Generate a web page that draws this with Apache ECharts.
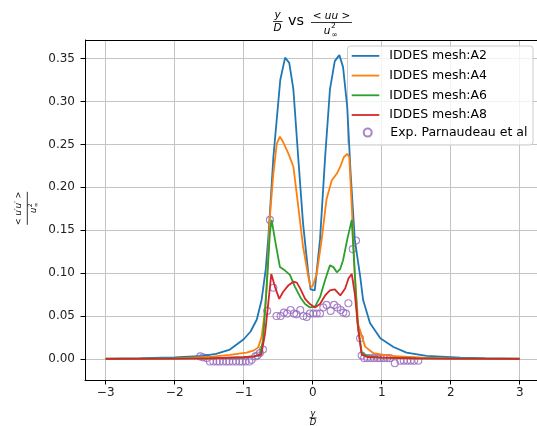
<!DOCTYPE html>
<html><head><meta charset="utf-8">
<script src="https://cdn.jsdelivr.net/npm/echarts@6/dist/echarts.min.js"></script>
<style>html,body{margin:0;padding:0;background:#fff;overflow:hidden}#c{width:537px;height:426px}</style>
</head><body><div id="c"></div>
<script>
const xTicks = [-3, -2, -1, 0, 1, 2, 3];
const yTicks = [0, 0.05, 0.1, 0.15, 0.2, 0.25, 0.3, 0.35];
const seriesNames = ['IDDES mesh:A2', 'IDDES mesh:A4', 'IDDES mesh:A6', 'IDDES mesh:A8', 'Exp. Parnaudeau et al'];

const a2X = [-3, -2.5, -2, -1.6, -1.4, -1.2, -1.0, -0.9, -0.81, -0.74, -0.68, -0.64, -0.57, -0.47, -0.40, -0.34, -0.28, -0.21, -0.14, -0.064, -0.03, 0.03, 0.106, 0.18, 0.25, 0.32, 0.386, 0.44, 0.50, 0.55, 0.61, 0.69, 0.73, 0.83, 0.98, 1.17, 1.36, 1.65, 2.14, 2.5, 3];
const a2Y = [0.0005, 0.001, 0.0018, 0.0035, 0.006, 0.011, 0.023, 0.032, 0.046, 0.069, 0.105, 0.145, 0.235, 0.325, 0.351, 0.345, 0.314, 0.235, 0.158, 0.10, 0.081, 0.080, 0.139, 0.235, 0.314, 0.347, 0.354, 0.340, 0.294, 0.216, 0.139, 0.095, 0.069, 0.042, 0.024, 0.014, 0.0074, 0.0035, 0.0016, 0.001, 0.0005];

const a4X = [-3, -2, -1.6, -1.45, -1.2, -0.96, -0.85, -0.79, -0.74, -0.69, -0.66, -0.62, -0.57, -0.52, -0.475, -0.43, -0.35, -0.28, -0.21, -0.14, -0.064, -0.03, 0.0, 0.058, 0.13, 0.2, 0.276, 0.35, 0.40, 0.45, 0.50, 0.53, 0.566, 0.61, 0.66, 0.76, 0.88, 1.12, 1.6, 2, 3];
const a4Y = [0.0003, 0.0008, 0.002, 0.0027, 0.0047, 0.0074, 0.010, 0.0135, 0.026, 0.057, 0.096, 0.166, 0.216, 0.251, 0.259, 0.253, 0.239, 0.224, 0.178, 0.131, 0.096, 0.084, 0.085, 0.099, 0.139, 0.186, 0.208, 0.216, 0.224, 0.235, 0.239, 0.235, 0.178, 0.099, 0.04, 0.0144, 0.0067, 0.0035, 0.0015, 0.0008, 0.0003];

const a6X = [-3, -2, -1.5, -1.0, -0.85, -0.765, -0.72, -0.67, -0.62, -0.595, -0.547, -0.475, -0.40, -0.33, -0.257, -0.18, -0.11, -0.04, 0.033, 0.106, 0.18, 0.25, 0.30, 0.35, 0.40, 0.44, 0.50, 0.566, 0.61, 0.65, 0.71, 0.8, 1.0, 1.5, 2, 3];
const a6Y = [0.0002, 0.0004, 0.0008, 0.002, 0.003, 0.005, 0.022, 0.08, 0.147, 0.162, 0.139, 0.107, 0.103, 0.098, 0.084, 0.072, 0.064, 0.060, 0.061, 0.072, 0.092, 0.109, 0.107, 0.101, 0.105, 0.115, 0.139, 0.162, 0.099, 0.042, 0.0075, 0.003, 0.0015, 0.0008, 0.0004, 0.0002];

const a8X = [-3, -2, -1.5, -1.0, -0.85, -0.745, -0.69, -0.64, -0.6, -0.547, -0.485, -0.43, -0.35, -0.28, -0.23, -0.18, -0.11, -0.04, 0.033, 0.106, 0.18, 0.25, 0.32, 0.40, 0.47, 0.52, 0.566, 0.61, 0.66, 0.71, 0.8, 1.0, 1.5, 2, 3];
const a8Y = [0.0002, 0.0004, 0.0008, 0.002, 0.003, 0.005, 0.03, 0.068, 0.099, 0.084, 0.070, 0.078, 0.086, 0.090, 0.089, 0.082, 0.070, 0.064, 0.060, 0.064, 0.074, 0.080, 0.081, 0.074, 0.082, 0.094, 0.099, 0.076, 0.034, 0.005, 0.002, 0.0015, 0.0008, 0.0004, 0.0002];

const expX = [-1.63, -1.59, -1.54, -1.49, -1.44, -1.39, -1.35, -1.30, -1.25, -1.21, -1.16, -1.11, -1.06, -1.02, -0.97, -0.92, -0.885, -0.83, -0.80, -0.765, -0.72, -0.66, -0.62, -0.57, -0.525, -0.465, -0.417, -0.37, -0.32, -0.27, -0.236, -0.18, -0.136, -0.087, -0.04, 0.01, 0.058, 0.106, 0.154, 0.2, 0.26, 0.31, 0.357, 0.406, 0.444, 0.483, 0.517, 0.58, 0.628, 0.686, 0.71, 0.745, 0.79, 0.84, 0.89, 0.94, 0.98, 1.03, 1.08, 1.12, 1.19, 1.27, 1.32, 1.37, 1.42, 1.47, 1.53];
const expY = [0.003, 0.002, 0.001, -0.003, -0.003, -0.003, -0.003, -0.003, -0.003, -0.003, -0.003, -0.003, -0.003, -0.003, -0.003, -0.003, -0.001, 0.003, 0.004, 0.007, 0.011, 0.056, 0.162, 0.083, 0.050, 0.050, 0.054, 0.053, 0.057, 0.053, 0.052, 0.057, 0.050, 0.049, 0.053, 0.053, 0.053, 0.053, 0.060, 0.063, 0.056, 0.063, 0.060, 0.057, 0.054, 0.053, 0.065, 0.128, 0.138, 0.024, 0.004, 0.001, 0.001, 0.001, 0.001, 0.001, 0.001, 0.001, 0.001, 0.001, -0.005, -0.002, -0.002, -0.002, -0.002, -0.002, -0.002];

const colors = ['#1f77b4', '#ff7f0e', '#2ca02c', '#d62728', '#9467bd'];
const FONT = 'DejaVu Sans';

function pairs(xs, ys) { return xs.map((x, i) => [x, ys[i]]); }
function lineSeries(name, xs, ys, color) {
  return {
    name: name, type: 'line', data: pairs(xs, ys), symbol: 'none', showSymbol: false,
    color: color, lineStyle: { width: 1.8, color: color }, animation: false
  };
}

const chart = echarts.init(document.getElementById('c'), null, { renderer: 'canvas' });
const txt = (t, x, y, size, italic, extra) => Object.assign({
  type: 'text', x: x, y: y,
  style: { text: t, font: (italic ? 'italic ' : '') + size + 'px "' + FONT + '"', fill: '#000', align: 'center', verticalAlign: 'middle' }
}, extra || {});
const hline = (x1, x2, y, w) => ({ type: 'line', shape: { x1: x1, y1: y, x2: x2, y2: y }, style: { stroke: '#000', lineWidth: w || 0.8 } });

const legendText = { fontFamily: FONT, fontSize: 12.5, color: '#000', padding: [0, 0, 0, 5] };

chart.setOption({
  backgroundColor: '#fff',
  animation: false,
  grid: { left: 85, top: 40, width: 455.4, height: 340, outerBoundsMode: 'none', containLabel: false, show: false },
  xAxis: {
    type: 'value', min: -3.3, max: 3.3,
    axisLine: { show: true, onZero: false, lineStyle: { color: '#000', width: 1 } },
    axisTick: { show: true, length: 4.5, customValues: xTicks, lineStyle: { color: '#000', width: 1 } },
    axisLabel: { customValues: xTicks, margin: 7, fontFamily: FONT, fontSize: 12, color: '#222',
      formatter: v => (v < 0 ? '\u2212' + Math.abs(v) : String(v)) },
    splitLine: { show: true, lineStyle: { color: '#c4c4c4', width: 1 } }
  },
  yAxis: {
    type: 'value', min: -0.0245, max: 0.3716,
    axisLine: { show: true, onZero: false, lineStyle: { color: '#000', width: 1 } },
    axisTick: { show: true, length: 4.5, customValues: yTicks, lineStyle: { color: '#000', width: 1 } },
    axisLabel: { customValues: yTicks, margin: 10, fontFamily: FONT, fontSize: 12, color: '#222',
      formatter: v => v.toFixed(2) },
    splitLine: { show: true, lineStyle: { color: '#c4c4c4', width: 1 } }
  },
  legend: [
    {
      orient: 'vertical', left: 351.7, top: 49.4,
      padding: 0, itemWidth: 27.6, itemHeight: 1.8, itemGap: 6.7, icon: 'rect',
      textStyle: legendText,
      data: seriesNames.slice(0, 4)
    },
    {
      orient: 'vertical', left: 362.7, top: 126.1,
      padding: 0, itemWidth: 8, itemHeight: 8,
      textStyle: { fontFamily: FONT, fontSize: 12.5, color: '#000', padding: [0, 0, 0, 13.6] },
      data: [{ name: seriesNames[4], icon: 'circle' }]
    }
  ],
  series: [
    lineSeries(seriesNames[0], a2X, a2Y, colors[0]),
    lineSeries(seriesNames[1], a4X, a4Y, colors[1]),
    lineSeries(seriesNames[2], a6X, a6Y, colors[2]),
    lineSeries(seriesNames[3], a8X, a8Y, colors[3]),
    {
      name: seriesNames[4], type: 'scatter', data: pairs(expX, expY),
      symbol: 'circle', symbolSize: 7, color: colors[4],
      itemStyle: { color: 'rgba(0,0,0,0)', borderColor: colors[4], borderWidth: 1.1 }, animation: false
    }
  ],
  graphic: [
    // top spine
    { type: 'line', z: 3, shape: { x1: 85, y1: 40.5, x2: 537, y2: 40.5 }, style: { stroke: '#000', lineWidth: 1 } },
    // legend frame
    { type: 'rect', z: 3, shape: { x: 347.5, y: 46, width: 185.5, height: 99, r: 3 },
      style: { fill: 'rgba(255,255,255,0.8)', stroke: '#cccccc', lineWidth: 1 } },
    // title: y/D vs <uu>/u_inf^2
    txt('y', 277.5, 15, 10.5, true),
    hline(273, 282.5, 21.5),
    txt('D', 277.5, 28.5, 10.5, true),
    txt('vs', 296, 21.5, 14.4, false),
    { type: 'text', x: 331.5, y: 16.5, style: { text: '{r|< }{i|uu}{r| >}', align: 'center', verticalAlign: 'middle',
        rich: { r: { fontFamily: FONT, fontSize: 10.5, fill: '#000' }, i: { fontFamily: FONT, fontSize: 10.5, fontStyle: 'italic', fill: '#000' } } } },
    hline(311, 352, 22.5),
    txt('u', 327, 31.5, 10.5, true),
    txt('2', 333.5, 26.5, 7.5, false),
    txt('\u221e', 334.5, 35, 7.5, false),
    // x label: y/D
    txt('y', 313, 414.3, 8.4, true),
    hline(309.5, 316.5, 418),
    txt('D', 313, 422.5, 8.4, true),
    // y label rotated
    {
      type: 'group', x: 27.3, y: 208.3, rotation: Math.PI / 2,
      children: [
        { type: 'text', x: 0, y: -8.8, style: { text: '{r|< }{i|u\u2032u\u2032}{r| >}', align: 'center', verticalAlign: 'middle',
            rich: { r: { fontFamily: FONT, fontSize: 8.4, fill: '#000' }, i: { fontFamily: FONT, fontSize: 8.4, fontStyle: 'italic', fill: '#000' } } } },
        hline(-16.5, 16.5, 0),
        txt('u', -2, 6.7, 8.4, true),
        txt('2', 3, 3.5, 6, false),
        txt('\u221e', 3.5, 9.5, 6, false)
      ]
    }
  ]
});
</script></body></html>
